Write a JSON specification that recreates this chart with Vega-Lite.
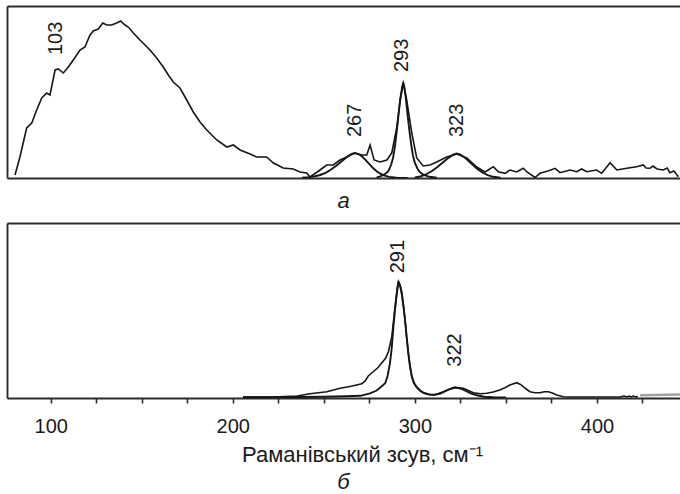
{
  "$schema": "https://vega.github.io/schema/vega-lite/v6.json",
  "padding": {"left": 7, "top": 6, "right": 0, "bottom": 0},
  "background": "white",
  "config": {
    "view": {"stroke": null},
    "font": "Liberation Sans",
    "axis": {"labelFont": "Liberation Sans", "titleFont": "Liberation Sans", "grid": false},
    "title": {"font": "Liberation Sans"},
    "text": {"font": "Liberation Sans"}
  },
  "datasets": {
    "spectra": [
      {"panel": "a", "series": "measured", "shift": 80.4, "intensity": 3},
      {"panel": "a", "series": "measured", "shift": 83.1, "intensity": 21},
      {"panel": "a", "series": "measured", "shift": 86.8, "intensity": 50},
      {"panel": "a", "series": "measured", "shift": 89.6, "intensity": 55},
      {"panel": "a", "series": "measured", "shift": 92.3, "intensity": 68},
      {"panel": "a", "series": "measured", "shift": 95.1, "intensity": 80},
      {"panel": "a", "series": "measured", "shift": 97.8, "intensity": 85},
      {"panel": "a", "series": "measured", "shift": 99.6, "intensity": 83},
      {"panel": "a", "series": "measured", "shift": 100.5, "intensity": 91},
      {"panel": "a", "series": "measured", "shift": 102.4, "intensity": 108},
      {"panel": "a", "series": "measured", "shift": 104.2, "intensity": 109},
      {"panel": "a", "series": "measured", "shift": 106.9, "intensity": 105},
      {"panel": "a", "series": "measured", "shift": 109.7, "intensity": 111},
      {"panel": "a", "series": "measured", "shift": 112.4, "intensity": 118},
      {"panel": "a", "series": "measured", "shift": 116.1, "intensity": 128},
      {"panel": "a", "series": "measured", "shift": 118.8, "intensity": 131},
      {"panel": "a", "series": "measured", "shift": 121.6, "intensity": 143},
      {"panel": "a", "series": "measured", "shift": 123.4, "intensity": 147},
      {"panel": "a", "series": "measured", "shift": 126.1, "intensity": 149},
      {"panel": "a", "series": "measured", "shift": 128.6, "intensity": 155},
      {"panel": "a", "series": "measured", "shift": 130.8, "intensity": 153},
      {"panel": "a", "series": "measured", "shift": 133.5, "intensity": 153},
      {"panel": "a", "series": "measured", "shift": 136.2, "intensity": 155},
      {"panel": "a", "series": "measured", "shift": 138.4, "intensity": 157},
      {"panel": "a", "series": "measured", "shift": 140.8, "intensity": 153},
      {"panel": "a", "series": "measured", "shift": 142.6, "intensity": 151},
      {"panel": "a", "series": "measured", "shift": 145.4, "intensity": 145},
      {"panel": "a", "series": "measured", "shift": 149.0, "intensity": 138},
      {"panel": "a", "series": "measured", "shift": 151.8, "intensity": 133},
      {"panel": "a", "series": "measured", "shift": 154.5, "intensity": 128},
      {"panel": "a", "series": "measured", "shift": 158.2, "intensity": 120},
      {"panel": "a", "series": "measured", "shift": 161.8, "intensity": 111},
      {"panel": "a", "series": "measured", "shift": 164.6, "intensity": 103},
      {"panel": "a", "series": "measured", "shift": 167.3, "intensity": 96},
      {"panel": "a", "series": "measured", "shift": 171.0, "intensity": 90},
      {"panel": "a", "series": "measured", "shift": 174.7, "intensity": 78},
      {"panel": "a", "series": "measured", "shift": 178.3, "intensity": 66},
      {"panel": "a", "series": "measured", "shift": 182.0, "intensity": 56},
      {"panel": "a", "series": "measured", "shift": 185.7, "intensity": 48},
      {"panel": "a", "series": "measured", "shift": 191.2, "intensity": 38},
      {"panel": "a", "series": "measured", "shift": 196.7, "intensity": 31},
      {"panel": "a", "series": "measured", "shift": 200.3, "intensity": 33},
      {"panel": "a", "series": "measured", "shift": 204.0, "intensity": 28},
      {"panel": "a", "series": "measured", "shift": 209.5, "intensity": 24},
      {"panel": "a", "series": "measured", "shift": 213.1, "intensity": 21},
      {"panel": "a", "series": "measured", "shift": 218.6, "intensity": 21},
      {"panel": "a", "series": "measured", "shift": 222.3, "intensity": 15},
      {"panel": "a", "series": "measured", "shift": 227.7, "intensity": 10},
      {"panel": "a", "series": "measured", "shift": 233.2, "intensity": 9},
      {"panel": "a", "series": "measured", "shift": 236.9, "intensity": 6},
      {"panel": "a", "series": "measured", "shift": 240.6, "intensity": 5},
      {"panel": "a", "series": "measured", "shift": 242.4, "intensity": 1},
      {"panel": "a", "series": "measured", "shift": 247.9, "intensity": 8},
      {"panel": "a", "series": "measured", "shift": 251.6, "intensity": 13},
      {"panel": "a", "series": "measured", "shift": 255.2, "intensity": 13},
      {"panel": "a", "series": "measured", "shift": 258.9, "intensity": 18},
      {"panel": "a", "series": "measured", "shift": 262.6, "intensity": 21},
      {"panel": "a", "series": "measured", "shift": 267.1, "intensity": 25},
      {"panel": "a", "series": "measured", "shift": 271.0, "intensity": 23},
      {"panel": "a", "series": "measured", "shift": 273.6, "intensity": 23},
      {"panel": "a", "series": "measured", "shift": 275.4, "intensity": 33},
      {"panel": "a", "series": "measured", "shift": 277.6, "intensity": 18},
      {"panel": "a", "series": "measured", "shift": 280.9, "intensity": 16},
      {"panel": "a", "series": "measured", "shift": 284.6, "intensity": 18},
      {"panel": "a", "series": "measured", "shift": 287.3, "intensity": 25},
      {"panel": "a", "series": "measured", "shift": 290.1, "intensity": 51},
      {"panel": "a", "series": "measured", "shift": 291.9, "intensity": 78},
      {"panel": "a", "series": "measured", "shift": 293.7, "intensity": 95},
      {"panel": "a", "series": "measured", "shift": 295.5, "intensity": 78},
      {"panel": "a", "series": "measured", "shift": 298.3, "intensity": 45},
      {"panel": "a", "series": "measured", "shift": 301.0, "intensity": 20},
      {"panel": "a", "series": "measured", "shift": 304.6, "intensity": 12},
      {"panel": "a", "series": "measured", "shift": 308.3, "intensity": 13},
      {"panel": "a", "series": "measured", "shift": 312.0, "intensity": 16},
      {"panel": "a", "series": "measured", "shift": 317.5, "intensity": 21},
      {"panel": "a", "series": "measured", "shift": 323.0, "intensity": 24},
      {"panel": "a", "series": "measured", "shift": 328.5, "intensity": 20},
      {"panel": "a", "series": "measured", "shift": 334.0, "intensity": 11},
      {"panel": "a", "series": "measured", "shift": 338.5, "intensity": 6},
      {"panel": "a", "series": "measured", "shift": 340.3, "intensity": 8},
      {"panel": "a", "series": "measured", "shift": 343.1, "intensity": 11.3},
      {"panel": "a", "series": "measured", "shift": 345.8, "intensity": 6.3},
      {"panel": "a", "series": "measured", "shift": 349.5, "intensity": 4.7},
      {"panel": "a", "series": "measured", "shift": 352.2, "intensity": 8},
      {"panel": "a", "series": "measured", "shift": 355.9, "intensity": 6},
      {"panel": "a", "series": "measured", "shift": 359.5, "intensity": 9.7},
      {"panel": "a", "series": "measured", "shift": 361.6, "intensity": 6},
      {"panel": "a", "series": "measured", "shift": 366.0, "intensity": 0.5},
      {"panel": "a", "series": "measured", "shift": 368.7, "intensity": 4.7},
      {"panel": "a", "series": "measured", "shift": 373.1, "intensity": 7},
      {"panel": "a", "series": "measured", "shift": 377.0, "intensity": 9.7},
      {"panel": "a", "series": "measured", "shift": 379.7, "intensity": 5.3},
      {"panel": "a", "series": "measured", "shift": 385.2, "intensity": 8},
      {"panel": "a", "series": "measured", "shift": 388.9, "intensity": 6.3},
      {"panel": "a", "series": "measured", "shift": 391.6, "intensity": 9},
      {"panel": "a", "series": "measured", "shift": 394.4, "intensity": 6.3},
      {"panel": "a", "series": "measured", "shift": 399.8, "intensity": 8},
      {"panel": "a", "series": "measured", "shift": 402.6, "intensity": 4.7},
      {"panel": "a", "series": "measured", "shift": 407.2, "intensity": 15.3},
      {"panel": "a", "series": "measured", "shift": 410.9, "intensity": 8},
      {"panel": "a", "series": "measured", "shift": 416.4, "intensity": 9.7},
      {"panel": "a", "series": "measured", "shift": 421.8, "intensity": 11.3},
      {"panel": "a", "series": "measured", "shift": 425.4, "intensity": 13},
      {"panel": "a", "series": "measured", "shift": 427.0, "intensity": 10},
      {"panel": "a", "series": "measured", "shift": 429.1, "intensity": 9.7},
      {"panel": "a", "series": "measured", "shift": 430.8, "intensity": 12},
      {"panel": "a", "series": "measured", "shift": 433.0, "intensity": 9},
      {"panel": "a", "series": "measured", "shift": 436.4, "intensity": 8},
      {"panel": "a", "series": "measured", "shift": 438.5, "intensity": 10},
      {"panel": "a", "series": "measured", "shift": 440.1, "intensity": 5.3},
      {"panel": "a", "series": "measured", "shift": 442.3, "intensity": 7},
      {"panel": "a", "series": "measured", "shift": 444.7, "intensity": 1.3},

      {"panel": "a", "series": "band267", "shift": 238, "intensity": 0.3},
      {"panel": "a", "series": "band267", "shift": 242, "intensity": 0.8},
      {"panel": "a", "series": "band267", "shift": 245, "intensity": 1.8},
      {"panel": "a", "series": "band267", "shift": 248, "intensity": 3},
      {"panel": "a", "series": "band267", "shift": 251, "intensity": 5.2},
      {"panel": "a", "series": "band267", "shift": 254, "intensity": 8.5},
      {"panel": "a", "series": "band267", "shift": 257, "intensity": 12.5},
      {"panel": "a", "series": "band267", "shift": 260, "intensity": 17},
      {"panel": "a", "series": "band267", "shift": 263, "intensity": 21.5},
      {"panel": "a", "series": "band267", "shift": 265, "intensity": 24},
      {"panel": "a", "series": "band267", "shift": 267, "intensity": 25},
      {"panel": "a", "series": "band267", "shift": 269, "intensity": 24},
      {"panel": "a", "series": "band267", "shift": 271, "intensity": 21.5},
      {"panel": "a", "series": "band267", "shift": 273, "intensity": 17.8},
      {"panel": "a", "series": "band267", "shift": 275, "intensity": 13.8},
      {"panel": "a", "series": "band267", "shift": 277, "intensity": 10},
      {"panel": "a", "series": "band267", "shift": 279, "intensity": 6.8},
      {"panel": "a", "series": "band267", "shift": 281, "intensity": 4.3},
      {"panel": "a", "series": "band267", "shift": 283, "intensity": 2.6},
      {"panel": "a", "series": "band267", "shift": 286, "intensity": 1.1},
      {"panel": "a", "series": "band267", "shift": 290, "intensity": 0.4},
      {"panel": "a", "series": "band267", "shift": 296, "intensity": 0},

      {"panel": "a", "series": "band293", "shift": 279, "intensity": 0.6},
      {"panel": "a", "series": "band293", "shift": 281, "intensity": 1.6},
      {"panel": "a", "series": "band293", "shift": 283, "intensity": 3.3},
      {"panel": "a", "series": "band293", "shift": 285, "intensity": 6},
      {"panel": "a", "series": "band293", "shift": 286, "intensity": 9},
      {"panel": "a", "series": "band293", "shift": 287, "intensity": 13.5},
      {"panel": "a", "series": "band293", "shift": 288, "intensity": 20},
      {"panel": "a", "series": "band293", "shift": 289, "intensity": 31},
      {"panel": "a", "series": "band293", "shift": 290, "intensity": 46},
      {"panel": "a", "series": "band293", "shift": 291, "intensity": 63},
      {"panel": "a", "series": "band293", "shift": 292, "intensity": 79},
      {"panel": "a", "series": "band293", "shift": 293, "intensity": 91},
      {"panel": "a", "series": "band293", "shift": 293.6, "intensity": 95},
      {"panel": "a", "series": "band293", "shift": 294.2, "intensity": 91},
      {"panel": "a", "series": "band293", "shift": 295, "intensity": 80},
      {"panel": "a", "series": "band293", "shift": 296, "intensity": 63},
      {"panel": "a", "series": "band293", "shift": 297, "intensity": 47},
      {"panel": "a", "series": "band293", "shift": 298, "intensity": 33},
      {"panel": "a", "series": "band293", "shift": 299, "intensity": 22},
      {"panel": "a", "series": "band293", "shift": 300, "intensity": 15},
      {"panel": "a", "series": "band293", "shift": 301.5, "intensity": 9},
      {"panel": "a", "series": "band293", "shift": 303, "intensity": 5.5},
      {"panel": "a", "series": "band293", "shift": 305, "intensity": 3},
      {"panel": "a", "series": "band293", "shift": 308, "intensity": 1.2},
      {"panel": "a", "series": "band293", "shift": 312, "intensity": 0.3},

      {"panel": "a", "series": "band323", "shift": 300, "intensity": 0.5},
      {"panel": "a", "series": "band323", "shift": 303, "intensity": 1.5},
      {"panel": "a", "series": "band323", "shift": 306, "intensity": 3.5},
      {"panel": "a", "series": "band323", "shift": 309, "intensity": 6.5},
      {"panel": "a", "series": "band323", "shift": 312, "intensity": 10.5},
      {"panel": "a", "series": "band323", "shift": 315, "intensity": 15},
      {"panel": "a", "series": "band323", "shift": 318, "intensity": 19.5},
      {"panel": "a", "series": "band323", "shift": 321, "intensity": 23.3},
      {"panel": "a", "series": "band323", "shift": 323, "intensity": 24.5},
      {"panel": "a", "series": "band323", "shift": 325, "intensity": 23.5},
      {"panel": "a", "series": "band323", "shift": 328, "intensity": 19.5},
      {"panel": "a", "series": "band323", "shift": 331, "intensity": 14.5},
      {"panel": "a", "series": "band323", "shift": 334, "intensity": 9.5},
      {"panel": "a", "series": "band323", "shift": 337, "intensity": 5.5},
      {"panel": "a", "series": "band323", "shift": 340, "intensity": 2.8},
      {"panel": "a", "series": "band323", "shift": 343, "intensity": 1.2},
      {"panel": "a", "series": "band323", "shift": 347, "intensity": 0.4},

      {"panel": "b", "series": "measured", "shift": 205.6, "intensity": 1},
      {"panel": "b", "series": "measured", "shift": 215, "intensity": 1},
      {"panel": "b", "series": "measured", "shift": 225, "intensity": 1.2},
      {"panel": "b", "series": "measured", "shift": 235.3, "intensity": 2},
      {"panel": "b", "series": "measured", "shift": 242.4, "intensity": 4.2},
      {"panel": "b", "series": "measured", "shift": 251.6, "intensity": 6.3},
      {"panel": "b", "series": "measured", "shift": 258.9, "intensity": 9.7},
      {"panel": "b", "series": "measured", "shift": 265, "intensity": 11.8},
      {"panel": "b", "series": "measured", "shift": 270.8, "intensity": 14.3},
      {"panel": "b", "series": "measured", "shift": 272.6, "intensity": 16.8},
      {"panel": "b", "series": "measured", "shift": 274.4, "intensity": 22},
      {"panel": "b", "series": "measured", "shift": 276, "intensity": 24.5},
      {"panel": "b", "series": "measured", "shift": 279.5, "intensity": 30},
      {"panel": "b", "series": "measured", "shift": 282, "intensity": 35.5},
      {"panel": "b", "series": "measured", "shift": 284, "intensity": 40},
      {"panel": "b", "series": "measured", "shift": 285.5, "intensity": 46.5},
      {"panel": "b", "series": "measured", "shift": 287.3, "intensity": 61},
      {"panel": "b", "series": "measured", "shift": 289.1, "intensity": 91},
      {"panel": "b", "series": "measured", "shift": 290.3, "intensity": 110},
      {"panel": "b", "series": "measured", "shift": 291, "intensity": 116.5},
      {"panel": "b", "series": "measured", "shift": 292, "intensity": 112},
      {"panel": "b", "series": "measured", "shift": 292.8, "intensity": 106},
      {"panel": "b", "series": "measured", "shift": 294, "intensity": 88},
      {"panel": "b", "series": "measured", "shift": 294.6, "intensity": 78},
      {"panel": "b", "series": "measured", "shift": 295.5, "intensity": 60},
      {"panel": "b", "series": "measured", "shift": 296.4, "intensity": 44.7},
      {"panel": "b", "series": "measured", "shift": 297.3, "intensity": 32},
      {"panel": "b", "series": "measured", "shift": 298.3, "intensity": 21.3},
      {"panel": "b", "series": "measured", "shift": 299.5, "intensity": 15},
      {"panel": "b", "series": "measured", "shift": 301, "intensity": 11.3},
      {"panel": "b", "series": "measured", "shift": 303, "intensity": 7.5},
      {"panel": "b", "series": "measured", "shift": 304.7, "intensity": 5.3},
      {"panel": "b", "series": "measured", "shift": 307, "intensity": 3.8},
      {"panel": "b", "series": "measured", "shift": 310.1, "intensity": 3},
      {"panel": "b", "series": "measured", "shift": 313, "intensity": 4.5},
      {"panel": "b", "series": "measured", "shift": 315.6, "intensity": 6.3},
      {"panel": "b", "series": "measured", "shift": 318, "intensity": 8.2},
      {"panel": "b", "series": "measured", "shift": 321.1, "intensity": 9.7},
      {"panel": "b", "series": "measured", "shift": 324, "intensity": 10.2},
      {"panel": "b", "series": "measured", "shift": 326.6, "intensity": 9.7},
      {"panel": "b", "series": "measured", "shift": 329, "intensity": 7.8},
      {"panel": "b", "series": "measured", "shift": 332.1, "intensity": 5.3},
      {"panel": "b", "series": "measured", "shift": 336, "intensity": 4.3},
      {"panel": "b", "series": "measured", "shift": 339.4, "intensity": 4.7},
      {"panel": "b", "series": "measured", "shift": 343, "intensity": 6},
      {"panel": "b", "series": "measured", "shift": 346.7, "intensity": 8},
      {"panel": "b", "series": "measured", "shift": 350, "intensity": 10.8},
      {"panel": "b", "series": "measured", "shift": 352.2, "intensity": 13},
      {"panel": "b", "series": "measured", "shift": 355.9, "intensity": 15.3},
      {"panel": "b", "series": "measured", "shift": 358, "intensity": 13.5},
      {"panel": "b", "series": "measured", "shift": 359.5, "intensity": 11.3},
      {"panel": "b", "series": "measured", "shift": 361.5, "intensity": 8.5},
      {"panel": "b", "series": "measured", "shift": 363.2, "intensity": 6.3},
      {"panel": "b", "series": "measured", "shift": 366, "intensity": 5.2},
      {"panel": "b", "series": "measured", "shift": 368.7, "intensity": 5.3},
      {"panel": "b", "series": "measured", "shift": 371, "intensity": 6.2},
      {"panel": "b", "series": "measured", "shift": 373.3, "intensity": 6.3},
      {"panel": "b", "series": "measured", "shift": 375.5, "intensity": 5},
      {"panel": "b", "series": "measured", "shift": 377.9, "intensity": 3},
      {"panel": "b", "series": "measured", "shift": 381.5, "intensity": 1.3},
      {"panel": "b", "series": "measured", "shift": 385, "intensity": 1},
      {"panel": "b", "series": "measured", "shift": 395, "intensity": 1},
      {"panel": "b", "series": "measured", "shift": 405, "intensity": 1},
      {"panel": "b", "series": "measured", "shift": 413, "intensity": 1.1},
      {"panel": "b", "series": "measured", "shift": 415, "intensity": 2},
      {"panel": "b", "series": "measured", "shift": 416.3, "intensity": 1.1},
      {"panel": "b", "series": "measured", "shift": 417.6, "intensity": 2},
      {"panel": "b", "series": "measured", "shift": 418.8, "intensity": 1.1},
      {"panel": "b", "series": "measured", "shift": 420, "intensity": 2},
      {"panel": "b", "series": "measured", "shift": 421.2, "intensity": 1.1},
      {"panel": "b", "series": "measured", "shift": 422.5, "intensity": 1.5},

      {"panel": "b", "series": "fit", "shift": 205.6, "intensity": 0.8},
      {"panel": "b", "series": "fit", "shift": 220, "intensity": 0.8},
      {"panel": "b", "series": "fit", "shift": 235, "intensity": 1},
      {"panel": "b", "series": "fit", "shift": 250, "intensity": 1.3},
      {"panel": "b", "series": "fit", "shift": 262, "intensity": 1.8},
      {"panel": "b", "series": "fit", "shift": 270, "intensity": 2.2},
      {"panel": "b", "series": "fit", "shift": 275.4, "intensity": 4.7},
      {"panel": "b", "series": "fit", "shift": 279, "intensity": 7.5},
      {"panel": "b", "series": "fit", "shift": 281, "intensity": 10.5},
      {"panel": "b", "series": "fit", "shift": 283.7, "intensity": 14.7},
      {"panel": "b", "series": "fit", "shift": 285, "intensity": 22},
      {"panel": "b", "series": "fit", "shift": 286.3, "intensity": 34.7},
      {"panel": "b", "series": "fit", "shift": 287.3, "intensity": 50},
      {"panel": "b", "series": "fit", "shift": 288.2, "intensity": 71},
      {"panel": "b", "series": "fit", "shift": 289.2, "intensity": 90},
      {"panel": "b", "series": "fit", "shift": 290.1, "intensity": 104.7},
      {"panel": "b", "series": "fit", "shift": 291, "intensity": 116.5},
      {"panel": "b", "series": "fit", "shift": 291.9, "intensity": 112},
      {"panel": "b", "series": "fit", "shift": 292.8, "intensity": 104},
      {"panel": "b", "series": "fit", "shift": 293.7, "intensity": 92},
      {"panel": "b", "series": "fit", "shift": 294.6, "intensity": 78},
      {"panel": "b", "series": "fit", "shift": 295.5, "intensity": 61},
      {"panel": "b", "series": "fit", "shift": 296.4, "intensity": 45},
      {"panel": "b", "series": "fit", "shift": 297.3, "intensity": 32},
      {"panel": "b", "series": "fit", "shift": 298.3, "intensity": 22},
      {"panel": "b", "series": "fit", "shift": 299.5, "intensity": 15},
      {"panel": "b", "series": "fit", "shift": 301, "intensity": 10.5},
      {"panel": "b", "series": "fit", "shift": 303, "intensity": 7},
      {"panel": "b", "series": "fit", "shift": 305, "intensity": 5},
      {"panel": "b", "series": "fit", "shift": 308, "intensity": 3.5},
      {"panel": "b", "series": "fit", "shift": 311, "intensity": 3.2},
      {"panel": "b", "series": "fit", "shift": 314, "intensity": 4.5},
      {"panel": "b", "series": "fit", "shift": 317, "intensity": 7},
      {"panel": "b", "series": "fit", "shift": 320, "intensity": 9.5},
      {"panel": "b", "series": "fit", "shift": 322, "intensity": 10.7},
      {"panel": "b", "series": "fit", "shift": 325, "intensity": 9.5},
      {"panel": "b", "series": "fit", "shift": 328, "intensity": 7},
      {"panel": "b", "series": "fit", "shift": 331, "intensity": 4.5},
      {"panel": "b", "series": "fit", "shift": 334, "intensity": 2.7},
      {"panel": "b", "series": "fit", "shift": 338, "intensity": 1.3},
      {"panel": "b", "series": "fit", "shift": 343, "intensity": 0.7},
      {"panel": "b", "series": "fit", "shift": 350, "intensity": 0.5},

      {"panel": "b", "series": "reference", "shift": 423.6, "intensity": 2.8},
      {"panel": "b", "series": "reference", "shift": 445.6, "intensity": 3.5}
    ],
    "peaks": [
      {"panel": "a", "peak": 103, "level": 123},
      {"panel": "a", "peak": 267, "level": 41},
      {"panel": "a", "peak": 293, "level": 106},
      {"panel": "a", "peak": 323, "level": 41},
      {"panel": "b", "peak": 291, "level": 124.7},
      {"panel": "b", "peak": 322, "level": 31.3}
    ]
  },
  "spacing": 11,
  "vconcat": [
    {
      "width": 673,
      "height": 172,
      "title": {"text": "а", "orient": "bottom", "anchor": "middle", "fontStyle": "italic", "fontWeight": "normal", "fontSize": 22, "color": "#1a1a1a", "offset": 13},
      "resolve": {"axis": {"x": "independent", "y": "independent"}},
      "layer": [
        {
          "data": {"name": "spectra"},
          "transform": [{"filter": "datum.panel === 'a' && datum.series === 'measured'"}],
          "mark": {"type": "line", "color": "#161616", "strokeWidth": 1.6, "clip": true},
          "encoding": {
            "x": {"field": "shift", "type": "quantitative", "scale": {"domain": [76, 445.6], "nice": false},
                  "axis": {"orient": "bottom", "domain": true, "domainColor": "#2b2b2b", "domainWidth": 1.9, "ticks": false, "labels": false, "title": null}},
            "y": {"field": "intensity", "type": "quantitative", "scale": {"domain": [0, 172], "nice": false},
                  "axis": {"orient": "left", "domain": true, "domainColor": "#2b2b2b", "domainWidth": 1.9, "ticks": false, "labels": false, "title": null}}
          }
        },
        {
          "data": {"name": "spectra"},
          "transform": [{"filter": "datum.panel === 'a' && datum.series !== 'measured'"}],
          "mark": {"type": "line", "color": "#161616", "strokeWidth": 1.9, "clip": true},
          "encoding": {
            "x": {"field": "shift", "type": "quantitative", "scale": {"domain": [76, 445.6], "nice": false},
                  "axis": {"orient": "top", "domain": true, "domainColor": "#2b2b2b", "domainWidth": 1.9, "ticks": false, "labels": false, "title": null}},
            "y": {"field": "intensity", "type": "quantitative", "scale": {"domain": [0, 172], "nice": false}, "axis": null},
            "detail": {"field": "series"}
          }
        },
        {
          "data": {"name": "peaks"},
          "transform": [{"filter": "datum.panel === 'a'"}],
          "mark": {"type": "text", "angle": 270, "align": "left", "baseline": "middle", "fontSize": 20, "color": "#1a1a1a"},
          "encoding": {
            "x": {"field": "peak", "type": "quantitative", "scale": {"domain": [76, 445.6], "nice": false}, "axis": null},
            "y": {"field": "level", "type": "quantitative", "scale": {"domain": [0, 172], "nice": false}, "axis": null},
            "text": {"field": "peak", "type": "nominal"}
          }
        }
      ]
    },
    {
      "width": 673,
      "height": 175,
      "title": {"text": "б", "orient": "bottom", "anchor": "middle", "fontStyle": "italic", "fontWeight": "normal", "fontSize": 22, "color": "#1a1a1a", "offset": 7},
      "resolve": {"axis": {"x": "independent", "y": "independent"}},
      "layer": [
        {
          "data": {"name": "spectra"},
          "transform": [{"filter": "datum.panel === 'b' && datum.series === 'measured'"}],
          "mark": {"type": "line", "color": "#161616", "strokeWidth": 1.6, "clip": true},
          "encoding": {
            "x": {"field": "shift", "type": "quantitative", "scale": {"domain": [76, 445.6], "nice": false},
                  "axis": {"orient": "bottom", "domain": true, "domainColor": "#2b2b2b", "domainWidth": 1.9,
                           "values": [100, 125, 150, 175, 200, 225, 250, 275, 300, 325, 350, 375, 400, 425],
                           "labelExpr": "datum.value % 100 === 0 ? datum.label : ''",
                           "ticks": true, "tickSize": 5, "tickWidth": 1.6, "tickColor": "#2b2b2b",
                           "labelFontSize": 20, "labelColor": "#1a1a1a", "labelPadding": 13, "labelFlush": false,
                           "title": "Раманівський зсув, см⁻¹", "titleFontSize": 22, "titleFontWeight": "normal",
                           "titleColor": "#1a1a1a", "titlePadding": 8, "titleX": 355}},
            "y": {"field": "intensity", "type": "quantitative", "scale": {"domain": [0, 175], "nice": false},
                  "axis": {"orient": "left", "domain": true, "domainColor": "#2b2b2b", "domainWidth": 1.9, "ticks": false, "labels": false, "title": null}}
          }
        },
        {
          "data": {"name": "spectra"},
          "transform": [{"filter": "datum.panel === 'b' && datum.series === 'fit'"}],
          "mark": {"type": "line", "color": "#161616", "strokeWidth": 1.9, "clip": true},
          "encoding": {
            "x": {"field": "shift", "type": "quantitative", "scale": {"domain": [76, 445.6], "nice": false},
                  "axis": {"orient": "top", "domain": true, "domainColor": "#2b2b2b", "domainWidth": 1.9, "ticks": false, "labels": false, "title": null}},
            "y": {"field": "intensity", "type": "quantitative", "scale": {"domain": [0, 175], "nice": false}, "axis": null}
          }
        },
        {
          "data": {"name": "spectra"},
          "transform": [{"filter": "datum.panel === 'b' && datum.series === 'reference'"}],
          "mark": {"type": "line", "color": "#a3a3a3", "strokeWidth": 2.6, "clip": true},
          "encoding": {
            "x": {"field": "shift", "type": "quantitative", "scale": {"domain": [76, 445.6], "nice": false}, "axis": null},
            "y": {"field": "intensity", "type": "quantitative", "scale": {"domain": [0, 175], "nice": false}, "axis": null}
          }
        },
        {
          "data": {"name": "peaks"},
          "transform": [{"filter": "datum.panel === 'b'"}],
          "mark": {"type": "text", "angle": 270, "align": "left", "baseline": "middle", "fontSize": 20, "color": "#1a1a1a"},
          "encoding": {
            "x": {"field": "peak", "type": "quantitative", "scale": {"domain": [76, 445.6], "nice": false}, "axis": null},
            "y": {"field": "level", "type": "quantitative", "scale": {"domain": [0, 175], "nice": false}, "axis": null},
            "text": {"field": "peak", "type": "nominal"}
          }
        }
      ]
    }
  ]
}
